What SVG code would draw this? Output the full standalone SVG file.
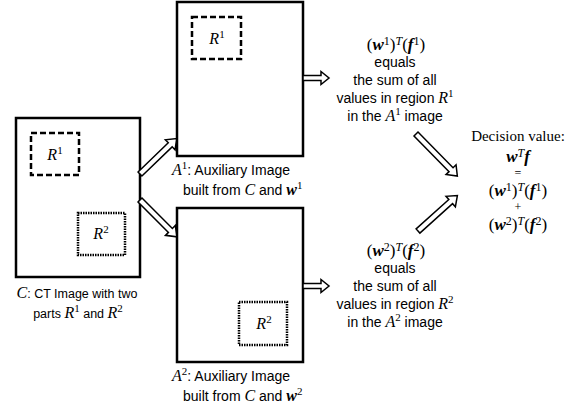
<svg xmlns="http://www.w3.org/2000/svg" width="566" height="408" viewBox="0 0 566 408">
<defs>
<style>
.box{fill:#fff;stroke:#000;stroke-width:2.5}
.dash{fill:none;stroke:#000;stroke-width:2.5;stroke-dasharray:6 3}
.dot{fill:none;stroke:#000;stroke-width:2.5;stroke-dasharray:1.5 1}
.t{font-family:"Liberation Sans",Arial,sans-serif;font-size:14px;fill:#000}
.tc{font-family:"Liberation Sans",Arial,sans-serif;font-size:12.5px;fill:#000}
.tm{font-family:"Liberation Sans",Arial,sans-serif;font-size:14px;fill:#000;text-anchor:middle}
.c{text-anchor:middle}
.m{font-family:"Liberation Serif","Times New Roman",serif;font-style:italic;font-size:16px}
.b{font-family:"Liberation Serif","Times New Roman",serif;font-style:italic;font-weight:bold}
.r{font-family:"Liberation Serif","Times New Roman",serif;font-style:normal}
.sup{font-size:11px}
.s{font-family:"Liberation Serif","Times New Roman",serif;font-size:15px;fill:#000;text-anchor:middle}
.o{font-family:"Liberation Serif","Times New Roman",serif;font-size:12px;fill:#000;text-anchor:middle}
.f{font-family:"Liberation Serif","Times New Roman",serif;font-size:17px;fill:#000;text-anchor:middle}
.f .sup{font-size:12px}
.arr{fill:#fff;stroke:#000;stroke-width:1.5;stroke-linejoin:miter}
</style>
</defs>

<g id="node-C">
<rect class="box" x="16" y="118" width="124" height="159"/>
<rect class="dash" x="31" y="133" width="48" height="42"/>
<text class="tc c" x="55" y="160"><tspan class="m">R</tspan><tspan class="r sup" dy="-6">1</tspan></text>
<rect class="dot" x="78" y="213" width="47" height="42"/>
<text class="tc c" x="101" y="239"><tspan class="m">R</tspan><tspan class="r sup" dy="-6">2</tspan></text>
<text class="tc c" x="77" y="298"><tspan class="m">C</tspan>: CT Image with two</text>
<text class="tc c" x="78" y="318">parts <tspan class="m">R</tspan><tspan class="r sup" dy="-6">1</tspan><tspan dy="6"> and </tspan><tspan class="m">R</tspan><tspan class="r sup" dy="-6">2</tspan></text>
</g>

<g id="node-A1">
<rect class="box" x="177" y="2" width="126" height="154"/>
<rect class="dash" x="192" y="17" width="49" height="42"/>
<text class="tc c" x="217" y="44"><tspan class="m">R</tspan><tspan class="r sup" dy="-6">1</tspan></text>
<text class="t" x="172" y="175"><tspan class="m">A</tspan><tspan class="r sup" dy="-6">1</tspan><tspan dy="6">: Auxiliary Image</tspan></text>
<text class="t" x="183" y="195">built from <tspan class="m">C</tspan> and <tspan class="b" style="font-size:16px">w</tspan><tspan class="r sup" dy="-6">1</tspan></text>
</g>

<g id="node-A2">
<rect class="box" x="177" y="208" width="126" height="154"/>
<rect class="dot" x="239" y="302" width="48" height="43"/>
<text class="tc c" x="264" y="329"><tspan class="m">R</tspan><tspan class="r sup" dy="-6">2</tspan></text>
<text class="t" x="172" y="381"><tspan class="m">A</tspan><tspan class="r sup" dy="-6">2</tspan><tspan dy="6">: Auxiliary Image</tspan></text>
<text class="t" x="183" y="401">built from <tspan class="m">C</tspan> and <tspan class="b" style="font-size:16px">w</tspan><tspan class="r sup" dy="-6">2</tspan></text>
</g>

<g id="node-text1">
<text class="f" x="396" y="50"><tspan>(</tspan><tspan class="b">w</tspan><tspan class="sup" dy="-5">1</tspan><tspan dy="5">)</tspan><tspan class="b sup" style="font-weight:normal" dy="-5">T</tspan><tspan dy="5">(</tspan><tspan class="b">f</tspan><tspan class="sup" dy="-5">1</tspan><tspan dy="5">)</tspan></text>
<text class="tm" x="395" y="67">equals</text>
<text class="tm" x="395" y="85">the sum of all</text>
<text class="tm" x="395" y="103">values in region <tspan class="m">R</tspan><tspan class="r sup" dy="-6">1</tspan></text>
<text class="tm" x="395" y="121">in the <tspan class="m">A</tspan><tspan class="r sup" dy="-6">1</tspan><tspan dy="6"> image</tspan></text>
</g>

<g id="node-text2">
<text class="f" x="396" y="256"><tspan>(</tspan><tspan class="b">w</tspan><tspan class="sup" dy="-5">2</tspan><tspan dy="5">)</tspan><tspan class="b sup" style="font-weight:normal" dy="-5">T</tspan><tspan dy="5">(</tspan><tspan class="b">f</tspan><tspan class="sup" dy="-5">2</tspan><tspan dy="5">)</tspan></text>
<text class="tm" x="395" y="273">equals</text>
<text class="tm" x="395" y="291">the sum of all</text>
<text class="tm" x="395" y="309">values in region <tspan class="m">R</tspan><tspan class="r sup" dy="-6">2</tspan></text>
<text class="tm" x="395" y="327">in the <tspan class="m">A</tspan><tspan class="r sup" dy="-6">2</tspan><tspan dy="6"> image</tspan></text>
</g>

<g id="node-decision">
<text class="s" x="518" y="141">Decision value:</text>
<text class="f" x="518" y="162"><tspan class="b">w</tspan><tspan class="b sup" style="font-weight:normal" dy="-5">T</tspan><tspan class="b" dy="5">f</tspan></text>
<text class="o" x="518" y="177">=</text>
<text class="f" x="518" y="196"><tspan>(</tspan><tspan class="b">w</tspan><tspan class="sup" dy="-5">1</tspan><tspan dy="5">)</tspan><tspan class="b sup" style="font-weight:normal" dy="-5">T</tspan><tspan dy="5">(</tspan><tspan class="b">f</tspan><tspan class="sup" dy="-5">1</tspan><tspan dy="5">)</tspan></text>
<text class="o" x="518" y="211">+</text>
<text class="f" x="518" y="230"><tspan>(</tspan><tspan class="b">w</tspan><tspan class="sup" dy="-5">2</tspan><tspan dy="5">)</tspan><tspan class="b sup" style="font-weight:normal" dy="-5">T</tspan><tspan dy="5">(</tspan><tspan class="b">f</tspan><tspan class="sup" dy="-5">2</tspan><tspan dy="5">)</tspan></text>
</g>

<g id="connectors">
<path class="arr" transform="translate(140,174) rotate(-44)" d="M0,-2.8 H42 V-7 L51,0 L42,7 V2.8 H0 Z"/>
<path class="arr" transform="translate(140,200) rotate(45)" d="M0,-2.8 H43 V-7 L52,0 L43,7 V2.8 H0 Z"/>
<path class="arr" transform="translate(303,78)" d="M0,-2.5 H18 V-6.5 L26,0 L18,6.5 V2.5 H0 Z"/>
<path class="arr" transform="translate(303,286)" d="M0,-2.5 H18 V-6.5 L26,0 L18,6.5 V2.5 H0 Z"/>
<path class="arr" transform="translate(416,134) rotate(45.5)" d="M0,-2.8 H50 V-7 L59,0 L50,7 V2.8 H0 Z"/>
<path class="arr" transform="translate(418,231) rotate(-42)" d="M0,-2.8 H44 V-7 L53,0 L44,7 V2.8 H0 Z"/>
</g>
</svg>
